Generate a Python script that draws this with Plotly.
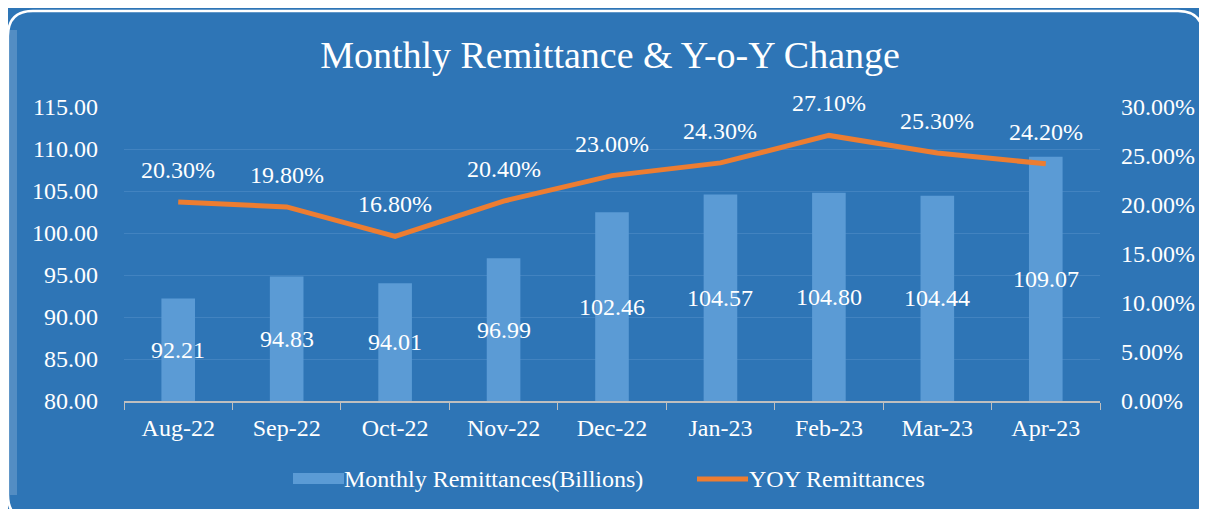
import plotly.graph_objects as go

months = ["Aug-22", "Sep-22", "Oct-22", "Nov-22", "Dec-22", "Jan-23", "Feb-23", "Mar-23", "Apr-23"]
remit = [92.21, 94.83, 94.01, 96.99, 102.46, 104.57, 104.80, 104.44, 109.07]
yoy = [0.203, 0.198, 0.168, 0.204, 0.230, 0.243, 0.271, 0.253, 0.242]

BG = "#2E75B6"
BAR = "#5B9BD5"
LINE = "#ED7D31"
FONT = "Liberation Serif"
FS = 24

# the page body has an 8px margin, so the figure is 8px smaller and shifted
OFF = 8
W, H = 1207 - OFF, 509 - OFF
L, R, T, B = 124 - OFF, 1207 - 1100, 107 - OFF, 509 - 401
pw, ph = W - L - R, H - T - B


def px(x):  # screen x -> paper
    return (x - OFF - L) / pw


def py(y):  # screen y -> paper
    return (H - B - (y - OFF)) / ph


fig = go.Figure()
fig.add_trace(go.Bar(x=months, y=remit, name="Monthly Remittances(Billions)",
                     marker=dict(color=BAR, line=dict(width=0)), yaxis="y"))
fig.add_trace(go.Scatter(x=months, y=yoy, name="YOY Remittances", mode="lines",
                         line=dict(color=LINE, width=5), yaxis="y2"))

ann = []
for m, v in zip(months, remit):
    ann.append(dict(x=m, y=(80 + v) / 2, xref="x", yref="y", text=f"{v:.2f}",
                    showarrow=False, font=dict(color="white", size=FS, family=FONT)))
for m, v in zip(months, yoy):
    ann.append(dict(x=m, y=v, xref="x", yref="y2", text=f"{v*100:.2f}%", yshift=32,
                    showarrow=False, font=dict(color="white", size=FS, family=FONT)))

# custom legend
ann.append(dict(x=px(342), y=py(479), xref="paper", yref="paper", xanchor="left", yanchor="middle",
                text="Monthly Remittances(Billions)", showarrow=False,
                font=dict(color="white", size=FS, family=FONT)))
ann.append(dict(x=px(747), y=py(479), xref="paper", yref="paper", xanchor="left", yanchor="middle",
                text="YOY Remittances", showarrow=False,
                font=dict(color="white", size=FS, family=FONT)))

# rounded border
x0, y0, x1, y1, r = px(8), py(11), px(1203), py(520), 25
rx, ry = r / pw, r / ph
path = (f"M {x0+rx},{y0} L {x1-rx},{y0} Q {x1},{y0} {x1},{y0-ry} "
        f"L {x1},{y1+ry} Q {x1},{y1} {x1-rx},{y1} L {x0+rx},{y1} "
        f"Q {x0},{y1} {x0},{y1+ry} L {x0},{y0-ry} Q {x0},{y0} {x0+rx},{y0} Z")
shapes = [
    dict(type="rect", xref="paper", yref="paper", x0=px(10), x1=px(17), y0=py(30), y1=py(495),
         fillcolor="rgba(255,255,255,0.18)", line=dict(width=0), layer="below"),
    dict(type="rect", xref="paper", yref="paper", x0=px(1201), x1=px(1206), y0=py(35), y1=py(505),
         fillcolor="rgba(255,255,255,0.15)", line=dict(width=0), layer="below"),
    dict(type="path", xref="paper", yref="paper", path=path,
         line=dict(color="white", width=2.5), layer="above"),
    # legend symbols
    dict(type="rect", xref="paper", yref="paper", x0=px(293), x1=px(344), y0=py(473), y1=py(484),
         fillcolor=BAR, line=dict(width=0)),
    dict(type="line", xref="paper", yref="paper", x0=px(697), x1=px(748), y0=py(479), y1=py(479),
         line=dict(color=LINE, width=5)),
]

fig.update_layout(
    width=W, height=H,
    margin=dict(l=L, r=R, t=T, b=B),
    paper_bgcolor=BG, plot_bgcolor=BG,
    font=dict(family=FONT, color="white", size=FS),
    title=dict(text="Monthly Remittance & Y-o-Y Change", x=(610 - OFF) / W, xanchor="center",
               xref="container", y=1 - (55 - OFF) / H, yanchor="middle",
               font=dict(size=38, color="white", family=FONT)),
    bargap=0.69,
    showlegend=False,
    xaxis=dict(showgrid=False, showline=True, linecolor="#BFBFBF", linewidth=1.5,
               ticks="outside", tickson="boundaries", ticklen=7, tickcolor="#BFBFBF",
               tickfont=dict(size=FS, color="white"), fixedrange=True, ticklabelstandoff=4),
    yaxis=dict(range=[80, 115], dtick=5, tickformat=".2f", showgrid=True,
               gridcolor="#4283C0", gridwidth=1, zeroline=False, showline=False,
               tickfont=dict(size=FS, color="white"), ticks="", ticklabelstandoff=25),
    yaxis2=dict(range=[0, 0.30], dtick=0.05, tickformat=".2%", overlaying="y", side="right",
                showgrid=False, zeroline=False, showline=False,
                tickfont=dict(size=FS, color="white"), ticks="", ticklabelstandoff=20),
    annotations=ann,
    shapes=shapes,
)

fig.write_html("out.html")
